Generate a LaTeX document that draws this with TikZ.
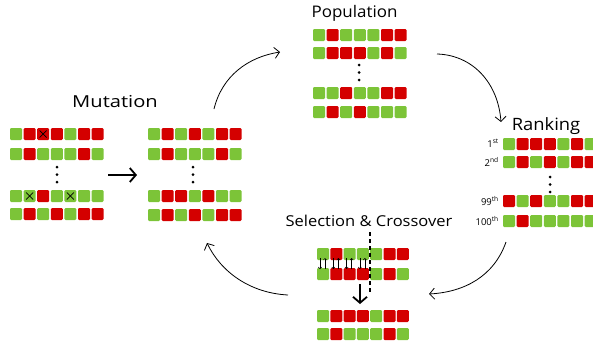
\documentclass[tikz,border=0pt]{standalone}
\usepackage{fontspec}
\setmainfont{Open Sans}
\usetikzlibrary{arrows.meta}
\definecolor{gg}{RGB}{124,196,56}
\definecolor{rr}{RGB}{212,0,0}
\tikzset{
  gene/.style={minimum size=12pt, inner sep=0pt, outer sep=0pt, rounded corners=1.2pt, draw=none},
  flow/.style={line width=0.8pt, -{Straight Barb[length=5pt,width=11pt]}},
  bigarrow/.style={line width=1.8pt, -{Straight Barb[length=6pt,width=14pt]}},
  tinyarrow/.style={line width=0.5pt, -{Straight Barb[length=1.6pt,width=3.2pt]}},
  title/.style={anchor=base, inner sep=0pt},
  gdot/.style={circle, fill=black, inner sep=0pt, minimum size=3pt},
  rank/.style={anchor=base east, inner sep=0pt, font=\fontsize{9.5}{10}\selectfont},
  cut/.style={line width=1.5pt, dash pattern=on 4pt off 3pt},
  xmk/.style={line width=0.7pt},
}
\newcommand\chrom[5]{% name, x0, y0, pitch, colours
  \foreach \c [count=\i] in {#5}{\node[gene, fill=\c] (#1-\i) at ({#2+(\i-1)*#4+6},{#3+6}) {};}}
\newcommand\dotcol[3]{% name, x, y0
  \node[gdot] (#1-a) at (#2,#3) {};
  \node[gdot] (#1-b) at (#2,#3+7.5) {};
  \node[gdot] (#1-c) at (#2,#3+15) {};}
\newcommand\crossmark[1]{%
  \draw[xmk] ([shift={(-3.5,-3.5)}]#1.center) -- ([shift={(3.5,3.5)}]#1.center);
  \draw[xmk] ([shift={(-3.5,3.5)}]#1.center) -- ([shift={(3.5,-3.5)}]#1.center);}
\begin{document}
\begin{tikzpicture}[x=1pt,y=-1pt]
\useasboundingbox (0,0) rectangle (593,349);
\clip (0,0) rectangle (593,349);
% ---------------- Population
\node[title, xscale=1.06, font=\fontsize{16}{16}\selectfont] (tpop) at (354.5,17) {Population};
\chrom{p1}{313}{29}{13.6}{gg,rr,gg,gg,gg,rr,rr}
\chrom{p2}{313}{47}{13.6}{gg,rr,rr,rr,gg,rr,gg}
\dotcol{pd}{359}{65}
\chrom{p3}{313}{87}{13.6}{gg,gg,rr,gg,gg,rr,rr}
\chrom{p4}{313}{106}{13.6}{gg,rr,gg,rr,gg,gg,gg}
% ---------------- Ranking
\node[title, xscale=1.08, font=\fontsize{17}{17}\selectfont] (trank) at (546,130) {Ranking};
\chrom{r1}{503}{138}{13.6}{gg,rr,rr,rr,gg,rr,gg}
\chrom{r2}{503}{156}{13.6}{gg,rr,gg,rr,gg,rr,rr}
\dotcol{rd}{550}{177}
\chrom{r3}{503}{195}{13.6}{rr,gg,rr,gg,gg,rr,rr}
\chrom{r4}{503}{215}{13.6}{gg,rr,gg,gg,gg,gg,gg}
\node[rank] (l1) at (499,147) {1\textsuperscript{st}};
\node[rank] (l2) at (499,166) {2\textsuperscript{nd}};
\node[rank] (l99) at (499,205) {99\textsuperscript{th}};
\node[rank] (l100) at (499,225) {100\textsuperscript{th}};
% ---------------- Mutation
\node[title, xscale=1.22, font=\fontsize{16.5}{16.5}\selectfont] (tmut) at (115,107) {Mutation};
\chrom{a1}{10}{128}{13.6}{gg,rr,rr,rr,gg,rr,rr}
\chrom{a2}{10}{148}{13.6}{gg,rr,gg,gg,gg,rr,gg}
\dotcol{ad}{57}{167}
\chrom{a3}{10}{190}{13.6}{gg,gg,rr,gg,gg,gg,gg}
\chrom{a4}{10}{208}{13.6}{gg,rr,gg,rr,gg,rr,rr}
\crossmark{a1-3}
\crossmark{a3-2}
\crossmark{a3-5}
\chrom{b1}{148}{128}{13.6}{gg,rr,gg,rr,gg,rr,rr}
\chrom{b2}{148}{148}{13.6}{gg,rr,gg,gg,gg,rr,gg}
\dotcol{bd}{193}{167}
\chrom{b3}{148}{190}{13.6}{gg,rr,rr,gg,rr,gg,gg}
\chrom{b4}{148}{209}{13.6}{gg,rr,gg,rr,gg,rr,rr}
\coordinate (ma) at (108,175);
\coordinate (mb) at (137,175);
\draw[bigarrow] (ma) -- (mb);
% ---------------- Selection & Crossover
\node[title, xscale=1.1, font=\fontsize{15}{15}\selectfont] (tsel) at (369,226) {Selection \& Crossover};
\chrom{s1}{317}{248}{13.3}{gg,rr,gg,gg,gg,rr,rr}
\chrom{s2}{317}{268}{13.3}{gg,rr,rr,rr,gg,rr,gg}
\chrom{s3}{317}{310}{13.3}{gg,rr,rr,rr,gg,rr,rr}
\chrom{s4}{317}{328}{13.3}{gg,rr,gg,gg,gg,rr,gg}
\foreach \i in {1,...,4}{
  \draw[tinyarrow] ([shift={(-3,-2)}]s1-\i.south) -- ([shift={(-3,1)}]s2-\i.north);
  \draw[tinyarrow] ([shift={(2,1)}]s2-\i.north) -- ([shift={(2,-2)}]s1-\i.south);
}
\coordinate (cutTop) at (370,232);
\coordinate (cutBot) at (370,292);
\draw[cut] (cutTop) -- (cutBot);
\coordinate (da) at (360,284);
\coordinate (db) at (360,304);
\draw[bigarrow] (da) -- (db);
% ---------------- cycle arrows
\coordinate (c1s) at (214,109); \coordinate (c1e) at (280,52);
\coordinate (c2s) at (437,54);  \coordinate (c2e) at (501,122);
\coordinate (c3s) at (506,242); \coordinate (c3e) at (429,294);
\coordinate (c4s) at (288,295); \coordinate (c4e) at (207,243);
\draw[flow] (c1s) .. controls (222,76) and (248,57) .. (c1e);
\draw[flow] (c2s) .. controls (472,55) and (498,82) .. (c2e);
\draw[flow] (c3s) .. controls (494,276) and (465,292) .. (c3e);
\draw[flow] (c4s) .. controls (250,293) and (221,272) .. (c4e);
\end{tikzpicture}
\end{document}
